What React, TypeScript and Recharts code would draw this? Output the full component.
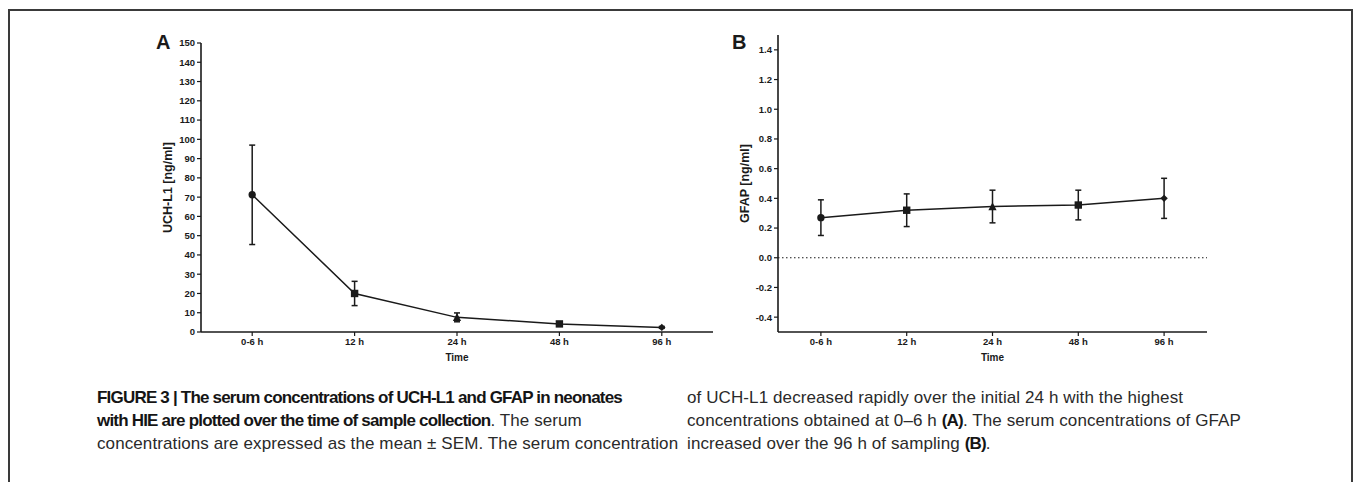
import React from 'react';
import { LineChart, Line, XAxis, YAxis, ErrorBar, ReferenceLine } from 'recharts';

const categories = ['0-6 h', '12 h', '24 h', '48 h', '96 h'];
const uchMean = [71.2, 20.0, 7.6, 4.2, 2.4];
const uchSem = [25.8, 6.3, 2.3, 0.8, 0.5];
const gfapMean = [0.27, 0.32, 0.345, 0.355, 0.4];
const gfapSem = [0.12, 0.11, 0.11, 0.1, 0.135];
const markers = ['circle', 'square', 'triangle', 'square', 'diamond'];
const uchTicks = [0, 10, 20, 30, 40, 50, 60, 70, 80, 90, 100, 110, 120, 130, 140, 150];
const gfapTicks = [-0.4, -0.2, 0, 0.2, 0.4, 0.6, 0.8, 1.0, 1.2, 1.4];

const uchData = categories.map((time, i) => ({ time, mean: uchMean[i], sem: uchSem[i] }));
const gfapData = categories.map((time, i) => ({ time, mean: gfapMean[i], sem: gfapSem[i] }));

const FONT = "'Liberation Sans', Arial, Helvetica, sans-serif";
const INK = '#1a1a1a';

const tickStyle = { fill: INK, fontSize: 9.5, fontWeight: 700, fontFamily: FONT };

// prism-like markers: shape depends on the point's index
const Marker = (props: any) => {
  const { cx, cy, index } = props;
  if (cx == null || cy == null) return null;
  const s = 3.7;
  const shape = markers[index % markers.length];
  if (shape === 'square') {
    return <rect key={index} x={cx - s} y={cy - s} width={s * 2} height={s * 2} fill={INK} />;
  }
  if (shape === 'triangle') {
    return <path key={index} d={`M${cx},${cy - s - 0.6}L${cx + s + 0.4},${cy + s}L${cx - s - 0.4},${cy + s}Z`} fill={INK} />;
  }
  if (shape === 'diamond') {
    return <path key={index} d={`M${cx},${cy - s}L${cx + s},${cy}L${cx},${cy + s}L${cx - s},${cy}Z`} fill={INK} />;
  }
  return <circle key={index} cx={cx} cy={cy} r={s} fill={INK} />;
};

const yLabel = (text: string) => (p: any) => {
  const vb = p.viewBox || {};
  const x = vb.x + 7;
  const y = vb.y + vb.height / 2;
  return (
    <text
      x={x}
      y={y}
      transform={`rotate(-90 ${x} ${y})`}
      textAnchor='middle'
      dominantBaseline='central'
      fill={INK}
      fontSize={12.5}
      fontWeight={700}
      fontFamily={FONT}
    >
      {text}
    </text>
  );
};

const timeLabel = (p: any) => {
  const vb = p.viewBox || {};
  return (
    <text
      x={vb.x + vb.width / 2}
      y={vb.y + 25}
      textAnchor='middle'
      dominantBaseline='central'
      fill={INK}
      fontSize={10}
      fontWeight={700}
      fontFamily={FONT}
    >
      Time
    </text>
  );
};

const captionLine = {
  position: 'absolute' as const,
  whiteSpace: 'nowrap' as const,
  fontFamily: FONT,
  fontSize: 17,
  letterSpacing: 0.1,
  color: '#2a2a2a',
  lineHeight: '23px',
};
const bold = { fontWeight: 700, letterSpacing: -0.8, color: '#151515' };

export default function App() {
  return (
    <div
      style={{
        position: 'absolute',
        left: 0,
        top: 0,
        width: 1355,
        height: 482,
        overflow: 'hidden',
        background: '#fff',
      }}
    >
      <div
        style={{
          position: 'absolute',
          left: 8,
          top: 9,
          width: 1345,
          height: 520,
          border: '2px solid #3a3a3a',
          boxSizing: 'border-box',
        }}
      />

      <div style={{ position: 'absolute', left: 156, top: 31, fontFamily: FONT, fontWeight: 700, fontSize: 20, color: INK }}>
        A
      </div>
      <div style={{ position: 'absolute', left: 732, top: 31, fontFamily: FONT, fontWeight: 700, fontSize: 20, color: INK }}>
        B
      </div>

      <div style={{ position: 'absolute', left: 0, top: 0 }}>
        <LineChart width={740} height={380} data={uchData} margin={{ top: 43, right: 27, bottom: 18, left: 161 }}>
          <XAxis
            dataKey='time'
            scale='band'
            height={30}
            axisLine={{ stroke: INK, strokeWidth: 1.6 }}
            tickLine={{ stroke: INK, strokeWidth: 1.2 }}
            tickSize={4}
            tick={tickStyle}
            label={{ content: timeLabel }}
          />
          <YAxis
            width={40}
            domain={[0, 150]}
            ticks={uchTicks}
            interval={0}
            axisLine={{ stroke: INK, strokeWidth: 1.6 }}
            tickLine={{ stroke: INK, strokeWidth: 1.2 }}
            tickSize={4}
            tick={tickStyle}
            label={{ content: yLabel('UCH-L1 [ng/ml]') }}
          />
          <Line
            dataKey='mean'
            stroke={INK}
            strokeWidth={1.5}
            dot={Marker}
            activeDot={false}
            isAnimationActive={false}
          >
            <ErrorBar dataKey='sem' direction='y' width={3} stroke={INK} strokeWidth={1.5} isAnimationActive={false} />
          </Line>
        </LineChart>
      </div>

      <div style={{ position: 'absolute', left: 620, top: 0 }}>
        <LineChart width={607} height={380} data={gfapData} margin={{ top: 35, right: 20, bottom: 18, left: 118 }}>
          <XAxis
            dataKey='time'
            scale='band'
            height={30}
            axisLine={{ stroke: INK, strokeWidth: 1.6 }}
            tickLine={{ stroke: INK, strokeWidth: 1.2 }}
            tickSize={4}
            tick={tickStyle}
            label={{ content: timeLabel }}
          />
          <YAxis
            width={40}
            domain={[-0.5, 1.5]}
            ticks={gfapTicks}
            interval={0}
            tickFormatter={(v: number) => v.toFixed(1)}
            axisLine={{ stroke: INK, strokeWidth: 1.6 }}
            tickLine={{ stroke: INK, strokeWidth: 1.2 }}
            tickSize={4}
            tick={tickStyle}
            label={{ content: yLabel('GFAP [ng/ml]') }}
          />
          <ReferenceLine y={0} stroke={INK} strokeWidth={1.2} strokeDasharray='1.5 2.5' />
          <Line
            dataKey='mean'
            stroke={INK}
            strokeWidth={1.5}
            dot={Marker}
            activeDot={false}
            isAnimationActive={false}
          >
            <ErrorBar dataKey='sem' direction='y' width={3} stroke={INK} strokeWidth={1.5} isAnimationActive={false} />
          </Line>
        </LineChart>
      </div>

      <div style={{ ...captionLine, left: 97, top: 386 }}>
        <span style={bold}>FIGURE 3 | The serum concentrations of UCH-L1 and GFAP in neonates</span>
      </div>
      <div style={{ ...captionLine, left: 97, top: 409 }}>
        <span style={bold}>with HIE are plotted over the time of sample collection</span>. The serum
      </div>
      <div style={{ ...captionLine, left: 97, top: 432 }}>
        concentrations are expressed as the mean ± SEM. The serum concentration
      </div>
      <div style={{ ...captionLine, left: 687, top: 386 }}>
        of UCH-L1 decreased rapidly over the initial 24 h with the highest
      </div>
      <div style={{ ...captionLine, left: 687, top: 409 }}>
        concentrations obtained at 0–6 h <span style={bold}>(A)</span>. The serum concentrations of GFAP
      </div>
      <div style={{ ...captionLine, left: 687, top: 432 }}>
        increased over the 96 h of sampling <span style={bold}>(B)</span>.
      </div>
    </div>
  );
}
